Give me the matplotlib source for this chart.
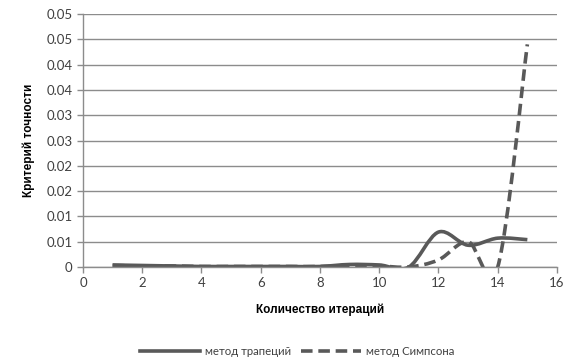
import numpy as np
import matplotlib
matplotlib.use("Agg")
import matplotlib.pyplot as plt
from matplotlib.path import Path
from matplotlib.patches import PathPatch
from matplotlib.lines import Line2D

iterations = [1, 2, 3, 4, 5, 6, 7, 8, 9, 10, 11, 12, 13, 14, 15]
trapezoid = [0.0004, 0.0003, 0.0002, 0.0001, 0.0001, 0.0001, 0.0001, 0.0001,
             0.0005, 0.0004, 0.0, 0.0069, 0.0043, 0.0057, 0.0054]
simpson = [0.0003, 0.0002, 0.0002, 0.0001, 0.0001, 0.0001, 0.0001, 0.0001,
           0.0003, 0.0002, 0.0, 0.0014, 0.0050, 0.0, 0.0440]
series_names = ["метод трапеций", "метод Симпсона"]
yticks = [0, 0.005, 0.01, 0.015, 0.02, 0.025, 0.03, 0.035, 0.04, 0.045, 0.05]
ytick_labels = ["0", "0.01", "0.01", "0.02", "0.02", "0.03", "0.03", "0.04", "0.04", "0.05", "0.05"]
xticks = [0, 2, 4, 6, 8, 10, 12, 14, 16]

FONT = ["Lato", "DejaVu Sans"]
plt.rcParams['font.family'] = FONT
COL = "#595959"
GRID = "#8c8c8c"


def smooth_path(x, y):
    # Bezier control points (Catmull-Rom style smoothing like spreadsheet charts)
    x = np.asarray(x, float)
    y = np.asarray(y, float)
    n = len(x)
    verts = [(x[0], y[0])]
    codes = [Path.MOVETO]
    for i in range(n - 1):
        p0 = (x[i - 1], y[i - 1]) if i > 0 else (x[i], y[i])
        p1 = (x[i], y[i])
        p2 = (x[i + 1], y[i + 1])
        p3 = (x[i + 2], y[i + 2]) if i + 2 < n else (x[i + 1], y[i + 1])
        c1 = (p1[0] + (p2[0] - p0[0]) / 6, p1[1] + (p2[1] - p0[1]) / 6)
        c2 = (p2[0] - (p3[0] - p1[0]) / 6, p2[1] - (p3[1] - p1[1]) / 6)
        verts += [c1, c2, p2]
        codes += [Path.CURVE4] * 3
    return Path(verts, codes)


fig = plt.figure(figsize=(5.77, 3.61), dpi=100)
ax = fig.add_axes([0.1438, 0.2604, 0.8215, 0.7008])

ax.set_xlim(0, 16)
ax.set_ylim(0, 0.05)
ax.set_yticks(yticks)
ax.set_yticklabels(ytick_labels)
ax.set_xticks(xticks)
ax.grid(axis='y', color=GRID, linewidth=1.0)
ax.set_axisbelow(True)
for s in ['top', 'right']:
    ax.spines[s].set_visible(False)
for s in ['left', 'bottom']:
    ax.spines[s].set_color(GRID)
    ax.spines[s].set_linewidth(1.0)
ax.tick_params(axis='both', colors=GRID, length=4, width=1.0,
               labelcolor="#404040", labelsize=9.5)

p1 = PathPatch(smooth_path(iterations, trapezoid), fill=False, edgecolor=COL,
               linewidth=2.6, capstyle='butt', joinstyle='round')
p2 = PathPatch(smooth_path(iterations, simpson), fill=False, edgecolor=COL,
               linewidth=2.6, linestyle=(0, (3.2, 1.6)), capstyle='butt')
ax.add_patch(p1)
ax.add_patch(p2)

ax.set_ylabel("Критерий точности", fontsize=8.5, fontweight='bold',
              family=["Liberation Sans", "DejaVu Sans"], labelpad=8)
ax.set_xlabel("Количество итераций", fontsize=8.5, fontweight='bold',
              family=["Liberation Sans", "DejaVu Sans"], labelpad=10)

handles = [Line2D([], [], color=COL, linewidth=2.6),
           Line2D([], [], color=COL, linewidth=2.6, linestyle=(0, (3.2, 1.6)))]
fig.legend(handles, series_names, loc='center', bbox_to_anchor=(0.515, 0.027),
           ncol=2, frameon=False, fontsize=8.2, handlelength=5.3,
           handletextpad=0.45, columnspacing=0.8, labelcolor="#404040")

fig.savefig("out.png", dpi=100)
